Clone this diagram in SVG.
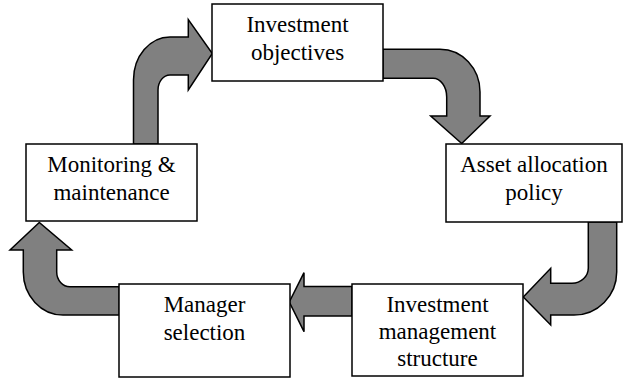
<svg xmlns="http://www.w3.org/2000/svg" width="624" height="380" viewBox="0 0 624 380">
<defs>
<style>
.box{fill:#ffffff;stroke:#000000;stroke-width:1.5}
.arr{fill:#808080;stroke:#000000;stroke-width:1.5;stroke-linejoin:miter}
</style>
</defs>
<rect width="624" height="380" fill="#ffffff"/>
<g id="connectors">
<path class="arr" d="M133.5 144 L133.5 80 A36.5 43 0 0 1 170 37 L188.3 37 L188.3 19.5 L212.3 53.5 L188.3 90 L188.3 75 L170 75 A12 15 0 0 0 158 90 L158 144 Z"/>
<path class="arr" d="M383 49.3 L440 49.3 A40 42.7 0 0 1 480 92 L480 116 L490 116 L461.7 143.5 L430.7 116 L446.7 116 L446.7 97 A13.7 18.7 0 0 0 433 78.3 L383 78.3 Z"/>
<path class="arr" d="M588.3 222 L616.7 222 L616.7 272 A42.7 43 0 0 1 574 315 L550.7 315 L550.7 325 L523.3 297 L550.7 268.3 L550.7 283.3 L572 283.3 A16.3 15.3 0 0 0 588.3 268 Z"/>
<path class="arr" d="M352 286.5 L304 286.5 L304 272.7 L289.3 302 L304 331.7 L304 316 L352 316 Z"/>
<path class="arr" d="M119.3 286.7 L70 286.7 A13.3 14.7 0 0 1 56.7 272 L56.7 250 L71.7 250 L39.3 222.5 L10 250 L23.3 250 L23.3 272 A39.7 43 0 0 0 63 315 L119.3 315 Z"/>
</g>
<g id="node-objectives">
<rect class="box" x="212" y="4" width="171" height="77"/>
<text x="297.5" y="32" style="font-family:'Liberation Serif','Times New Roman',serif;font-size:23px" text-anchor="middle">Investment</text>
<text x="297.5" y="60" style="font-family:'Liberation Serif','Times New Roman',serif;font-size:23px" text-anchor="middle">objectives</text>
</g>
<g id="node-asset">
<rect class="box" x="446" y="144" width="176" height="78"/>
<text x="534" y="172" style="font-family:'Liberation Serif','Times New Roman',serif;font-size:23px" text-anchor="middle">Asset allocation</text>
<text x="534" y="200" style="font-family:'Liberation Serif','Times New Roman',serif;font-size:23px" text-anchor="middle">policy</text>
</g>
<g id="node-structure">
<rect class="box" x="352" y="284" width="171" height="92"/>
<text x="437.5" y="312" style="font-family:'Liberation Serif','Times New Roman',serif;font-size:23px" text-anchor="middle">Investment</text>
<text x="437.5" y="339" style="font-family:'Liberation Serif','Times New Roman',serif;font-size:23px" text-anchor="middle">management</text>
<text x="437.5" y="366" style="font-family:'Liberation Serif','Times New Roman',serif;font-size:23px" text-anchor="middle">structure</text>
</g>
<g id="node-manager">
<rect class="box" x="119" y="284" width="171" height="93"/>
<text x="204.5" y="312" style="font-family:'Liberation Serif','Times New Roman',serif;font-size:23px" text-anchor="middle">Manager</text>
<text x="204.5" y="340" style="font-family:'Liberation Serif','Times New Roman',serif;font-size:23px" text-anchor="middle">selection</text>
</g>
<g id="node-monitoring">
<rect class="box" x="26" y="144" width="171" height="77"/>
<text x="111.5" y="172" style="font-family:'Liberation Serif','Times New Roman',serif;font-size:23px" text-anchor="middle">Monitoring &amp;</text>
<text x="111.5" y="200" style="font-family:'Liberation Serif','Times New Roman',serif;font-size:23px" text-anchor="middle">maintenance</text>
</g>
</svg>
